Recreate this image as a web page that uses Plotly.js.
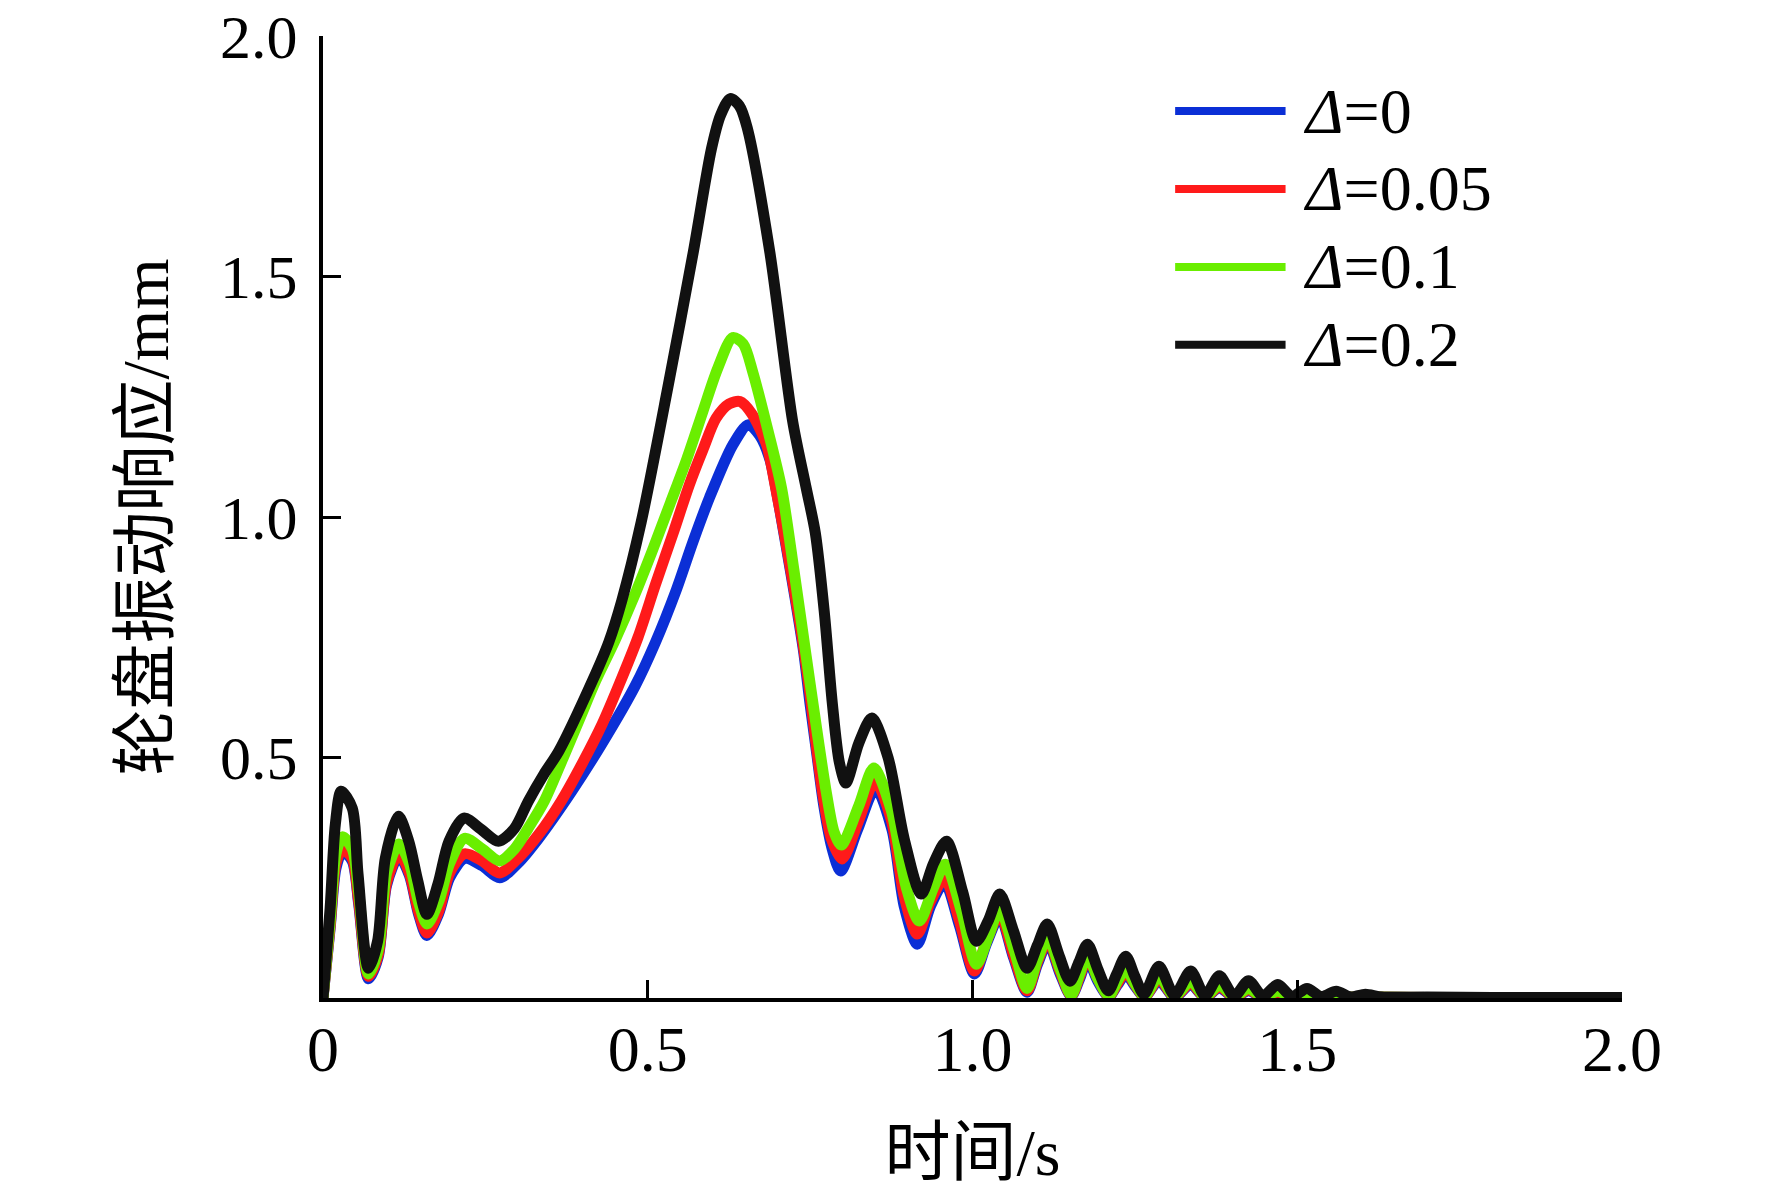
<!DOCTYPE html>
<html>
<head>
<meta charset="utf-8">
<script src="https://cdn.plot.ly/plotly-3.0.1.min.js"></script>
<style>
  html, body { margin: 0; padding: 0; background: #fff; }
  #chart { width: 1772px; height: 1194px; }
</style>
</head>
<body>
<div id="chart"></div>
<script>
// series names and colours
let seriesNames = ['<i>Δ</i>=0', '<i>Δ</i>=0.05', '<i>Δ</i>=0.1', '<i>Δ</i>=0.2'];
let seriesColors = ['#0b2fd6', '#ff1a1a', '#6aee00', '#111111'];

// axis ticks
let xTickVals = [0, 0.5, 1.0, 1.5, 2.0];
let xTickText = ['0', '0.5', '1.0', '1.5', '2.0'];
let yTickVals = [0.5, 1.0, 1.5, 2.0];
let yTickText = ['0.5', '1.0', '1.5', '2.0'];

// Δ=0 (blue)
let t0 = [0, 0.011, 0.02, 0.03, 0.045, 0.055, 0.07, 0.085, 0.098, 0.117, 0.133, 0.147, 0.16, 0.178, 0.195, 0.218, 0.245, 0.272, 0.3, 0.332,
    0.383, 0.43, 0.481, 0.512, 0.543, 0.57, 0.595, 0.631, 0.655, 0.672, 0.688, 0.70, 0.713, 0.727, 0.74, 0.75, 0.76, 0.771, 0.784, 0.797,
    0.823, 0.851, 0.876, 0.895, 0.915, 0.935, 0.957, 0.98, 1.003, 1.022, 1.042, 1.063, 1.084, 1.1, 1.116, 1.135, 1.152, 1.165, 1.177, 1.193,
    1.21, 1.223, 1.236, 1.25, 1.265, 1.287, 1.311, 1.336, 1.358, 1.38, 1.403, 1.425, 1.447, 1.47, 1.492, 1.515, 1.54, 1.6, 1.7, 1.8, 1.9, 2.0];
let y0 = [0, 0.145, 0.27, 0.305, 0.285, 0.195, 0.04, 0.085, 0.235, 0.295, 0.255, 0.175, 0.13, 0.175, 0.25, 0.29, 0.275, 0.25, 0.28, 0.332,
    0.43, 0.53, 0.65, 0.74, 0.845, 0.95, 1.04, 1.15, 1.192, 1.17, 1.12, 1.04, 0.94, 0.83, 0.72, 0.61, 0.51, 0.4, 0.31, 0.264,
    0.35, 0.436, 0.35, 0.19, 0.112, 0.19, 0.24, 0.15, 0.05, 0.115, 0.17, 0.085, 0.012, 0.07, 0.115, 0.05, 0.004, 0.04, 0.08, 0.035,
    0.003, 0.027, 0.05, 0.025, 0.003, 0.036, 0.002, 0.028, 0.002, 0.021, 0.002, 0.015, 0.002, 0.01, 0.002, 0.007, 0.002, 0.002, 0.001, 0.001, 0.001, 0.001];

// Δ=0.05 (red)
let t05 = [0, 0.011, 0.02, 0.03, 0.045, 0.055, 0.07, 0.085, 0.098, 0.117, 0.133, 0.147, 0.16, 0.178, 0.195, 0.218, 0.245, 0.272, 0.3, 0.332,
    0.367, 0.4, 0.43, 0.456, 0.485, 0.512, 0.54, 0.564, 0.585, 0.605, 0.625, 0.642, 0.66, 0.683, 0.697, 0.711, 0.724, 0.737, 0.749, 0.759,
    0.77, 0.783, 0.799, 0.825, 0.85, 0.875, 0.895, 0.915, 0.935, 0.957, 0.98, 1.003, 1.022, 1.042, 1.063, 1.084, 1.1, 1.116, 1.135, 1.152,
    1.165, 1.177, 1.193, 1.21, 1.223, 1.236, 1.25, 1.265, 1.287, 1.311, 1.336, 1.358, 1.38, 1.403, 1.425, 1.447, 1.47, 1.492, 1.515, 1.54,
    1.6, 1.7, 1.8, 1.9, 2.0];
let y05 = [0, 0.15, 0.28, 0.31, 0.29, 0.2, 0.045, 0.09, 0.24, 0.30, 0.26, 0.18, 0.135, 0.18, 0.26, 0.30, 0.285, 0.26, 0.29, 0.34,
    0.41, 0.49, 0.57, 0.652, 0.75, 0.86, 0.97, 1.067, 1.14, 1.205, 1.235, 1.24, 1.215, 1.15, 1.06, 0.96, 0.86, 0.755, 0.64, 0.53,
    0.42, 0.33, 0.289, 0.37, 0.451, 0.37, 0.21, 0.133, 0.2, 0.249, 0.16, 0.056, 0.12, 0.175, 0.09, 0.015, 0.075, 0.12, 0.055, 0.005,
    0.045, 0.085, 0.04, 0.004, 0.03, 0.055, 0.028, 0.003, 0.04, 0.003, 0.031, 0.002, 0.024, 0.002, 0.017, 0.002, 0.012, 0.002, 0.008, 0.002,
    0.002, 0.001, 0.001, 0.001, 0.001];

// Δ=0.1 (green)
let t1 = [0, 0.011, 0.02, 0.03, 0.045, 0.055, 0.07, 0.085, 0.098, 0.117, 0.133, 0.147, 0.16, 0.178, 0.195, 0.218, 0.245, 0.272, 0.295, 0.316,
    0.341, 0.37, 0.395, 0.42, 0.45, 0.479, 0.507, 0.535, 0.56, 0.585, 0.608, 0.631, 0.647, 0.662, 0.685, 0.706, 0.725, 0.744, 0.76,
    0.775, 0.787, 0.798,
    0.825, 0.848, 0.875, 0.898, 0.918, 0.94, 0.958, 0.983, 1.006, 1.025, 1.042, 1.064, 1.084, 1.1, 1.116, 1.135, 1.152, 1.165, 1.177, 1.193,
    1.21, 1.223, 1.236, 1.25, 1.265, 1.287, 1.311, 1.336, 1.358, 1.38, 1.403, 1.425, 1.447, 1.47, 1.492, 1.515, 1.54, 1.6, 1.7, 1.8, 1.9, 2.0];
let y1 = [0, 0.16, 0.3, 0.335, 0.31, 0.22, 0.05, 0.1, 0.26, 0.32, 0.28, 0.2, 0.154, 0.2, 0.28, 0.332, 0.31, 0.285, 0.31, 0.353,
    0.41, 0.5, 0.58, 0.66, 0.745, 0.835, 0.93, 1.03, 1.12, 1.22, 1.31, 1.373, 1.36, 1.3, 1.18, 1.06, 0.89, 0.71, 0.56,
    0.427, 0.345, 0.318,
    0.40, 0.478, 0.39, 0.23, 0.16, 0.23, 0.278, 0.18, 0.07, 0.13, 0.185, 0.1, 0.02, 0.08, 0.125, 0.06, 0.006, 0.05, 0.09, 0.04,
    0.005, 0.035, 0.06, 0.03, 0.004, 0.045, 0.004, 0.035, 0.003, 0.027, 0.003, 0.02, 0.002, 0.014, 0.002, 0.009, 0.002, 0.002, 0.001, 0.001, 0.001, 0.001];

// Δ=0.2 (black)
let t2 = [0, 0.011, 0.019, 0.028, 0.045, 0.054, 0.07, 0.084, 0.096, 0.116, 0.132, 0.146, 0.16, 0.177, 0.194, 0.217, 0.243, 0.27, 0.295, 0.316,
    0.34, 0.363,
    0.415, 0.44, 0.46, 0.49, 0.531, 0.57, 0.598, 0.612, 0.627, 0.641, 0.653, 0.688, 0.723, 0.744, 0.758, 0.772, 0.784, 0.795, 0.805,
    0.825, 0.845, 0.87, 0.895, 0.921, 0.94, 0.96, 0.985, 1.006, 1.024, 1.042, 1.063, 1.084, 1.1, 1.115, 1.133, 1.15, 1.164, 1.177, 1.193,
    1.209, 1.222, 1.236, 1.25, 1.264, 1.287, 1.311, 1.336, 1.358, 1.38, 1.403, 1.425, 1.447, 1.47, 1.492, 1.515, 1.537, 1.56, 1.582, 1.605,
    1.63, 1.7, 1.8, 1.9, 2.0];
let y2 = [0, 0.187, 0.361, 0.43, 0.395, 0.257, 0.062, 0.118, 0.291, 0.378, 0.326, 0.243, 0.174, 0.237, 0.326, 0.374, 0.351, 0.326, 0.353, 0.409,
    0.465, 0.513,
    0.66, 0.74, 0.826, 0.99, 1.27, 1.55, 1.765, 1.835, 1.87, 1.855, 1.81, 1.55, 1.2, 1.06, 0.967, 0.8, 0.615, 0.49, 0.447,
    0.53, 0.582, 0.5, 0.33, 0.216, 0.28, 0.326, 0.22, 0.118, 0.16, 0.216, 0.14, 0.062, 0.11, 0.154, 0.09, 0.035, 0.075, 0.112, 0.06,
    0.015, 0.05, 0.087, 0.045, 0.008, 0.066, 0.006, 0.056, 0.005, 0.046, 0.004, 0.036, 0.004, 0.028, 0.003, 0.02, 0.003, 0.014, 0.002, 0.008,
    0.002, 0.002, 0.001, 0.001, 0.001];

let allT = [t0, t05, t1, t2];
let allY = [y0, y05, y1, y2];

let serif = 'Liberation Serif, Noto Sans CJK SC, serif';

let traces = [];
for (let i = 0; i < allT.length; i++) {
    traces.push({
        type: 'scatter',
        mode: 'lines',
        name: seriesNames[i],
        x: allT[i],
        y: allY[i],
        line: { color: seriesColors[i], width: 11, shape: 'spline', smoothing: 0.8 },
        showlegend: false
    });
}

// hand-drawn legend: long sample lines on the upper right
let legendTop = 0.922;
let legendStep = 0.081;
let shapes = [];
let annotations = [];
for (let i = 0; i < seriesNames.length; i++) {
    let yy = legendTop - i * legendStep;
    shapes.push({
        type: 'line', xref: 'paper', yref: 'paper',
        x0: 0.656, x1: 0.741, y0: yy, y1: yy,
        line: { color: seriesColors[i], width: 8 }
    });
    annotations.push({
        xref: 'paper', yref: 'paper', x: 0.753, y: yy,
        xanchor: 'left', yanchor: 'middle', showarrow: false,
        text: seriesNames[i],
        font: { family: serif, size: 64, color: '#000' }
    });
}

// small trailing gap so the y labels sit a little further from the axis
let yGap = '<span style="font-size:36px">&nbsp;</span>';

let layout = {
    width: 1772,
    height: 1194,
    margin: { l: 323, r: 150, t: 36, b: 196 },
    paper_bgcolor: '#fff',
    plot_bgcolor: '#fff',
    font: { family: serif, color: '#000' },
    showlegend: false,
    xaxis: {
        range: [0, 2],
        tickvals: xTickVals,
        ticktext: xTickText,
        ticks: 'inside',
        ticklen: 18,
        tickwidth: 3,
        tickcolor: '#000',
        showline: true,
        linewidth: 4,
        linecolor: '#000',
        showgrid: false,
        zeroline: false,
        ticklabelstandoff: -8,
        tickfont: { family: serif, size: 64, color: '#000' },
        title: { text: '时间/s', font: { family: serif, size: 66, color: '#000' }, standoff: 46 }
    },
    yaxis: {
        range: [0, 2],
        tickvals: yTickVals,
        ticktext: yTickText.map(function (s) { return s + yGap; }),
        ticks: 'inside',
        ticklen: 18,
        tickwidth: 3,
        tickcolor: '#000',
        showline: true,
        linewidth: 4,
        linecolor: '#000',
        showgrid: false,
        zeroline: false,
        tickfont: { family: serif, size: 62, color: '#000' },
        title: { text: '轮盘振动响应/mm', font: { family: serif, size: 66, color: '#000' }, standoff: 31 }
    },
    shapes: shapes,
    annotations: annotations
};

Plotly.newPlot('chart', traces, layout, { displayModeBar: false, responsive: false });
</script>
</body>
</html>
